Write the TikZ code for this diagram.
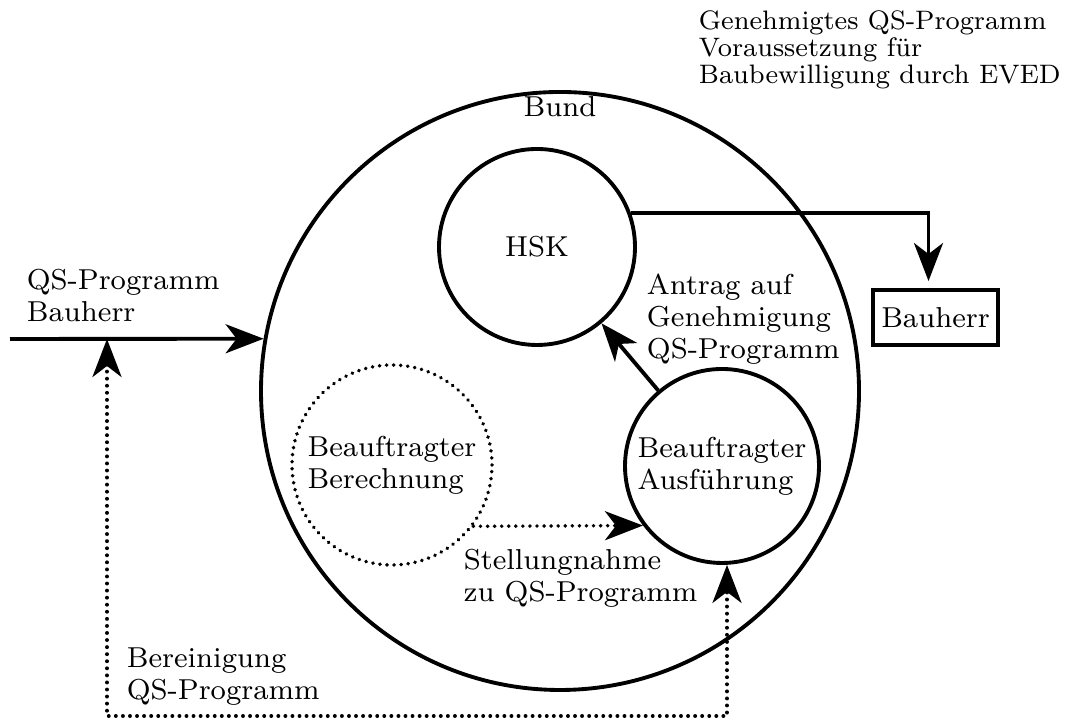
\documentclass[tikz,border=0pt]{standalone}
\usepackage{amsmath, amssymb}
\usepackage{tikz}
\usetikzlibrary{arrows.meta}

\begin{document}
\begin{tikzpicture}[
  line width=1.1pt,
  >={Stealth[length=3.8mm, width=2.9mm, inset=1.1mm]},
  every node/.style={font=\fontsize{8.2}{9.1}\selectfont},
  kreis/.style={draw, circle, inner sep=0pt},
  punkte/.style={line cap=round, dash pattern=on 0.01pt off 2pt},
  textblock/.style={anchor=north west, inner sep=0pt, align=left}
]
\useasboundingbox (0,0) rectangle (10.8,7.2);

\node[kreis, minimum size=5.98cm] (bund) at (5.60,3.29) {};
\node (bundlbl) at (5.60,6.13) {Bund};
\node[kreis, minimum size=1.96cm] (hsk) at (5.37,4.73) {HSK};
\node[kreis, minimum size=1.94cm, align=left] (ausf) at (7.22,2.54) {Beauftragter\\Ausführung};
\node[kreis, punkte, minimum size=2.0cm, align=left] (ber) at (3.92,2.55) {Beauftragter\\Berechnung};
\node[draw, minimum width=1.25cm, minimum height=0.55cm, inner sep=0pt] (bauherr) at (9.355,4.025) {Bauherr};

\node[textblock, font=\fontsize{7.6}{7.7}\selectfont] (eved) at (6.97,7.11) {Genehmigtes QS-Programm\\Voraussetzung für\\Baubewilligung durch EVED};
\node[textblock] (qslbl) at (0.25,4.53) {QS-Programm\\Bauherr};
\node[textblock] (antrag) at (6.45,4.48) {Antrag auf\\Genehmigung\\QS-Programm};
\node[textblock] (stellung) at (4.62,1.73) {Stellungnahme\\zu QS-Programm};
\node[textblock] (bereinigung) at (1.25,0.74) {Bereinigung\\QS-Programm};

% Verbindungen
\coordinate (qsin) at (0.10,3.81);
\coordinate (qsjoin) at (1.07,3.81);
\coordinate (ecke) at (1.07,0.04);
\draw[->] (qsin) -- (bund.170);
\draw[->] (hsk.20) -| ([xshift=-0.07cm, yshift=0.07cm]bauherr.north);
\draw[->] (ausf) -- (hsk);
\draw[->, punkte] (ber.-37) -- (ausf.217);
\draw[<->, punkte] (qsjoin) -- (ecke) -| ([xshift=0.05cm]ausf.south);
\end{tikzpicture}
\end{document}
